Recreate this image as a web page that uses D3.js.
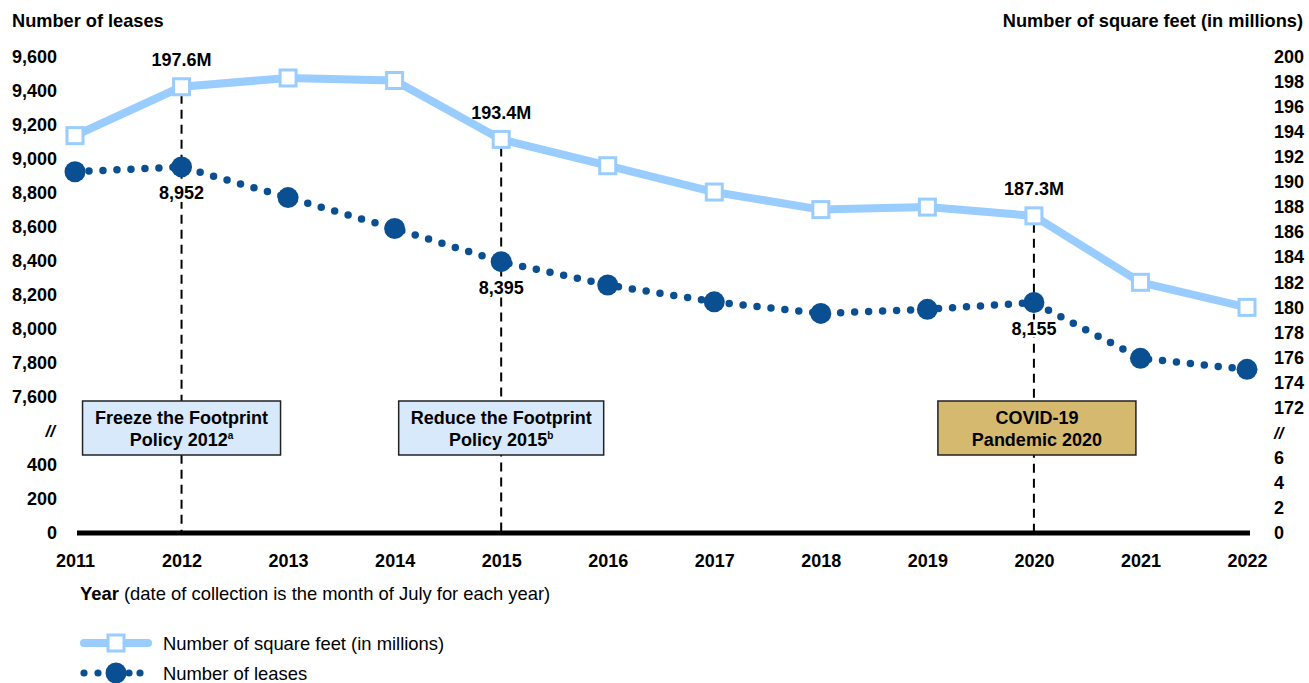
<!DOCTYPE html>
<html>
<head>
<meta charset="utf-8">
<script src="https://cdn.jsdelivr.net/npm/d3@7"></script>
<style>
  body { margin: 0; background: #fff; }
  svg { font-family: 'Liberation Sans', Arial, sans-serif; }
</style>
</head>
<body>
<svg id="chart" width="1309" height="683"></svg>
<script>
const years = [2011, 2012, 2013, 2014, 2015, 2016, 2017, 2018, 2019, 2020, 2021, 2022]
const squareFeet = [193.7, 197.6, 198.3, 198.1, 193.4, 191.3, 189.2, 187.8, 188.0, 187.3, 182.0, 180.0]
const leases = [8924, 8952, 8772, 8590, 8395, 8258, 8159, 8091, 8115, 8155, 7827, 7762]

const leftTicks = [0, 200, 400, 7600, 7800, 8000, 8200, 8400, 8600, 8800, 9000, 9200, 9400, 9600]
const rightTicks = [0, 2, 4, 6, 172, 174, 176, 178, 180, 182, 184, 186, 188, 190, 192, 194, 196, 198, 200]

const markYears = [2012, 2015, 2020]
const policyBoxes = [
  { year: 2012, lines: ['Freeze the Footprint', 'Policy 2012'], sup: ['', 'a'], fill: '#d7e9fb' },
  { year: 2015, lines: ['Reduce the Footprint', 'Policy 2015'], sup: ['', 'b'], fill: '#d7e9fb' },
  { year: 2020, lines: ['COVID-19', 'Pandemic 2020'], sup: ['', ''], fill: '#d4b96f' }
]

const lightBlue = '#99ccff'
const darkBlue = '#0a4f92'

const svg = d3.select('#chart')

const y0 = 533
const sL = 34.02
const sR = 25.07

const xscale = d3.scaleLinear()
  .domain([2011, 2022])
  .range([75, 1247])

// broken axes: lower piece, break slot, upper piece
const yLeft = d3.scaleLinear()
  .domain([0, 400, 7600, 9600])
  .range([y0, y0 - 2 * sL, y0 - 4 * sL, y0 - 14 * sL])

const yRight = d3.scaleLinear()
  .domain([0, 6, 172, 200])
  .range([y0, y0 - 3 * sR, y0 - 5 * sR, y0 - 19 * sR])

// axes
const leftAxis = svg.append('g')
  .attr('transform', 'translate(57, 0)')
  .call(d3.axisLeft(yLeft).tickValues(leftTicks).tickFormat(d3.format(',')).tickSize(0).tickPadding(0))
leftAxis.select('.domain').remove()

const rightAxis = svg.append('g')
  .attr('transform', 'translate(1274, 0)')
  .call(d3.axisRight(yRight).tickValues(rightTicks).tickFormat(d3.format('d')).tickSize(0).tickPadding(0))
rightAxis.select('.domain').remove()

const bottomAxis = svg.append('g')
  .attr('transform', `translate(0, ${y0})`)
  .call(d3.axisBottom(xscale).tickValues(years).tickFormat(d3.format('d')).tickSize(0).tickPadding(21))
bottomAxis.select('.domain').remove()

svg.selectAll('.tick text')
  .attr('font-family', "'Liberation Sans', Arial, sans-serif")
  .attr('font-size', 18)
  .attr('font-weight', 'bold')
  .attr('fill', '#000')

// break marks
svg.append('text')
  .text('//')
  .attr('x', 55)
  .attr('y', yLeft(4000))
  .attr('dy', '0.35em')
  .attr('text-anchor', 'end')
  .attr('font-size', 17)
  .attr('font-weight', 'bold')
  .attr('font-style', 'italic')

svg.append('text')
  .text('//')
  .attr('x', 1274)
  .attr('y', yRight(89))
  .attr('dy', '0.35em')
  .attr('font-size', 17)
  .attr('font-weight', 'bold')
  .attr('font-style', 'italic')

// axis titles
svg.append('text')
  .text('Number of leases')
  .attr('x', 12)
  .attr('y', 27)
  .attr('font-size', 18.2)
  .attr('font-weight', 'bold')

svg.append('text')
  .text('Number of square feet (in millions)')
  .attr('x', 1303)
  .attr('y', 27)
  .attr('text-anchor', 'end')
  .attr('font-size', 18.2)
  .attr('font-weight', 'bold')

const yearTitle = svg.append('text')
  .attr('x', 80)
  .attr('y', 600)
  .attr('font-size', 18.4)
yearTitle.append('tspan').text('Year').attr('font-weight', 'bold')
yearTitle.append('tspan').text(' (date of collection is the month of July for each year)')

// dashed event lines
const sqById = new Map(years.map((y, i) => [y, squareFeet[i]]))
const leaseById = new Map(years.map((y, i) => [y, leases[i]]))

svg.append('g')
  .selectAll('line')
  .data(markYears)
  .enter()
  .append('line')
  .attr('x1', d => xscale(d))
  .attr('x2', d => xscale(d))
  .attr('y1', d => yRight(sqById.get(d)) + 8)
  .attr('y2', y0)
  .attr('stroke', '#000')
  .attr('stroke-width', 2)
  .attr('stroke-dasharray', '9 6')

// thick baseline
svg.append('line')
  .attr('x1', xscale(2011) + 2)
  .attr('x2', xscale(2022) + 3)
  .attr('y1', y0)
  .attr('y2', y0)
  .attr('stroke', '#000')
  .attr('stroke-width', 5)

// policy boxes
const boxW = [198, 205, 198]
const boxShift = [0, 0, 3]
policyBoxes.forEach((b, i) => {
  const cx = xscale(b.year) + boxShift[i]
  const g = svg.append('g')
  g.append('rect')
    .attr('x', cx - boxW[i] / 2)
    .attr('y', 401)
    .attr('width', boxW[i])
    .attr('height', 54)
    .attr('fill', b.fill)
    .attr('stroke', '#222')
    .attr('stroke-width', 1.5)
  b.lines.forEach((line, j) => {
    const t = g.append('text')
      .attr('x', cx)
      .attr('y', 424 + j * 22)
      .attr('text-anchor', 'middle')
      .attr('font-size', 18)
      .attr('font-weight', 'bold')
    t.append('tspan').text(line)
    if (b.sup[j]) {
      t.append('tspan').text(b.sup[j]).attr('font-size', 10).attr('dy', -7)
    }
  })
})

// square feet line
const sqLine = d3.line()
  .x((d, i) => xscale(years[i]))
  .y(d => yRight(d))

svg.append('path')
  .datum(squareFeet)
  .attr('d', sqLine)
  .attr('fill', 'none')
  .attr('stroke', lightBlue)
  .attr('stroke-width', 8)
  .attr('stroke-linejoin', 'round')

svg.append('g')
  .selectAll('rect')
  .data(squareFeet)
  .enter()
  .append('rect')
  .attr('x', (d, i) => xscale(years[i]) - 8)
  .attr('y', d => yRight(d) - 8)
  .attr('width', 16)
  .attr('height', 16)
  .attr('fill', '#fff')
  .attr('stroke', lightBlue)
  .attr('stroke-width', 3)

// leases line
const leaseLine = d3.line()
  .x((d, i) => xscale(years[i]))
  .y(d => yLeft(d))

svg.append('path')
  .datum(leases)
  .attr('d', leaseLine)
  .attr('fill', 'none')
  .attr('stroke', darkBlue)
  .attr('stroke-width', 7.5)
  .attr('stroke-linecap', 'round')
  .attr('stroke-dasharray', '0 14')

svg.append('g')
  .selectAll('circle')
  .data(leases)
  .enter()
  .append('circle')
  .attr('cx', (d, i) => xscale(years[i]))
  .attr('cy', d => yLeft(d))
  .attr('r', 10.5)
  .attr('fill', darkBlue)

// value labels
const fmtLease = d3.format(',')
markYears.forEach(yr => {
  const cx = xscale(yr)
  svg.append('text')
    .text(sqById.get(yr).toFixed(1) + 'M')
    .attr('x', cx)
    .attr('y', yRight(sqById.get(yr)) - 27)
    .attr('dy', '0.35em')
    .attr('text-anchor', 'middle')
    .attr('font-size', 18)
    .attr('font-weight', 'bold')

  const ly = yLeft(leaseById.get(yr)) + 26
  svg.append('rect')
    .attr('x', cx - 24)
    .attr('y', ly - 9)
    .attr('width', 48)
    .attr('height', 18)
    .attr('fill', '#fff')
  svg.append('text')
    .text(fmtLease(leaseById.get(yr)))
    .attr('x', cx)
    .attr('y', ly)
    .attr('dy', '0.35em')
    .attr('text-anchor', 'middle')
    .attr('font-size', 18)
    .attr('font-weight', 'bold')
})

// legend
const legend = svg.append('g')
legend.append('line')
  .attr('x1', 84).attr('x2', 148)
  .attr('y1', 643).attr('y2', 643)
  .attr('stroke', lightBlue)
  .attr('stroke-width', 8)
  .attr('stroke-linecap', 'round')
legend.append('rect')
  .attr('x', 108).attr('y', 635)
  .attr('width', 16).attr('height', 16)
  .attr('fill', '#fff')
  .attr('stroke', lightBlue)
  .attr('stroke-width', 3)
legend.append('text')
  .text('Number of square feet (in millions)')
  .attr('x', 163).attr('y', 649.5)
  .attr('font-size', 18.4)

legend.selectAll('circle.dot')
  .data([84, 98, 129, 140])
  .enter()
  .append('circle')
  .attr('cx', d => d)
  .attr('cy', 673)
  .attr('r', 3.6)
  .attr('fill', darkBlue)
legend.append('circle')
  .attr('cx', 116).attr('cy', 673)
  .attr('r', 10.5)
  .attr('fill', darkBlue)
legend.append('text')
  .text('Number of leases')
  .attr('x', 163).attr('y', 679.5)
  .attr('font-size', 18.4)
</script>
</body>
</html>
